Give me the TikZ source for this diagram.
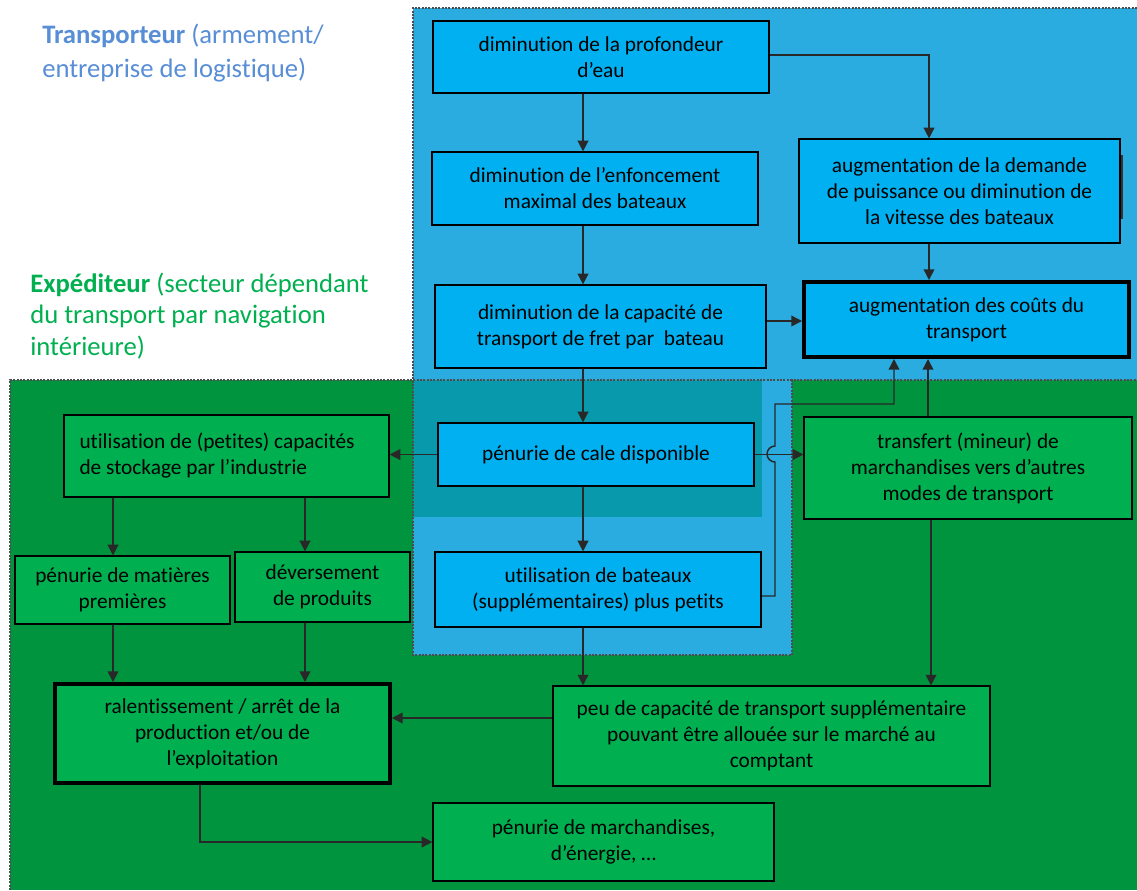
\documentclass[tikz,border=0pt]{standalone}
\usepackage{fontspec}
\setmainfont{Carlito}[Ligatures={NoCommon}]
\usetikzlibrary{arrows.meta}
\definecolor{regblue}{RGB}{42,172,224}
\definecolor{boxblue}{RGB}{0,176,240}
\definecolor{reggreen}{RGB}{0,148,62}
\definecolor{boxgreen}{RGB}{0,176,80}
\definecolor{teal2}{RGB}{8,154,172}
\definecolor{arrgray}{RGB}{40,40,40}
\definecolor{lblblue}{RGB}{88,142,214}
\definecolor{lblgreen}{RGB}{0,176,80}
\tikzset{
  sz/.style 2 args={minimum width=#1*0.75pt, minimum height=#2*0.75pt},
  box/.style={draw=black, line width=0.9pt, align=center, inner sep=2pt,
    font=\fontsize{16}{19.5}\selectfont},
  bbox/.style={box, fill=boxblue},
  gbox/.style={box, fill=boxgreen},
  thick box/.style={line width=3pt},
  arr/.style={draw=arrgray, line width=1.1pt, -{Triangle[length=8pt,width=8pt]}},
  region/.style={draw=gray!60!black, line width=0.9pt, dash pattern=on 1.5pt off 1pt},
  lbl/.style={anchor=base west, align=left, inner sep=0pt}
}
\begin{document}
\begin{tikzpicture}[x=0.75pt,y=-0.75pt]
\useasboundingbox (0,0) rectangle (1137,890);
\fill[white] (0,0) rectangle (1137,890);
% regions
\fill[reggreen] (10,380) rectangle (1137,890);
\fill[regblue] (413,8) -- (1137,8) -- (1137,380) -- (792,380) -- (792,655) -- (413,655) -- cycle;
\fill[teal2] (413,380) rectangle (762,517);
\draw[region] (792,380) -- (10,380) -- (10,890);
\draw[region] (1137,8) -- (413,8) -- (413,655) -- (792,655) -- (792,380) -- (1137,380);
% labels
\node[lbl, text=lblblue, font=\fontsize{20}{25}\selectfont] (tlab) at (42,77) {\textbf{Transporteur} (armement/\\entreprise de logistique)};
\node[lbl, text=lblgreen, font=\fontsize{20}{23.5}\selectfont] (elab) at (30,355) {\textbf{Expéditeur} (secteur dépendant\\du transport par navigation\\intérieure)};
% boxes
\node[bbox, sz={336}{72}] (b1) at (601,57) {diminution de la profondeur\\d’eau};
\node[bbox, sz={326}{73}] (b2) at (595,188.5) {diminution de l’enfoncement\\maximal des bateaux};
\node[bbox, sz={331}{83}] (b3) at (600.5,326.5) {diminution de la capacité de\\transport de fret par\ \ bateau};
\node[bbox, sz={321}{104}] (b4) at (959.5,191) {augmentation de la demande\\de puissance ou diminution de\\la vitesse des bateaux};
\node[bbox, thick box, sz={325}{75}] (b5) at (966.5,319.5) {augmentation des coûts du\\transport};
\node[bbox, sz={316}{63}] (b6) at (596,454.5) {pénurie de cale disponible};
\node[bbox, sz={326}{75}] (b7) at (598,589.5) {utilisation de bateaux\\(supplémentaires) plus petits};
\node[gbox, sz={328}{102}] (b8) at (968,468) {transfert (mineur) de\\marchandises vers d’autres\\modes de transport};
\node[gbox, sz={325}{82}, align=flush left, text width=294*0.75pt, inner xsep=15.5*0.75pt] (b9) at (226.5,456) {utilisation de (petites) capacités\\de stockage par l’industrie};
\node[gbox, sz={215}{68}] (b10) at (122.5,590) {pénurie de matières\\premières};
\node[gbox, sz={175}{70}] (b11) at (322.5,587) {déversement\\de produits};
\node[gbox, thick box, sz={335}{99}] (b12) at (222.5,733.5) {ralentissement / arrêt de la\\production et/ou de\\l’exploitation};
\node[gbox, sz={437}{100}] (b13) at (771.5,736) {peu de capacité de transport supplémentaire\\pouvant être allouée sur le marché au\\comptant};
\node[gbox, sz={341}{78}] (b14) at (603.5,842) {pénurie de marchandises,\\d’énergie, …};
% small shadow edge right of b4
\draw[black!80, line width=1pt] (1122,155) -- (1122,219);
% helper coordinates
\coordinate (cA) at (583,0);
\coordinate (cR) at (929,0);
\coordinate (c928) at (928,0);
\coordinate (c931) at (931,0);
\coordinate (c113) at (113,0);
\coordinate (c305) at (305,0);
\coordinate (c200) at (200,0);
\coordinate (r55) at (0,55);
\coordinate (r321) at (0,321);
\coordinate (r596) at (0,596);
\coordinate (r718) at (0,718);
\coordinate (jlo) at (775,462);
\coordinate (j404) at (775,404);
\coordinate (k404) at (894,404);
% connectors
\draw[arr] (b1.south -| cA) -- (b2.north -| cA);
\draw[arr] (b2.south -| cA) -- (b3.north -| cA);
\draw[arr] (b3.south -| cA) -- (b6.north -| cA);
\draw[arr] (b6.south -| cA) -- (b7.north -| cA);
\draw[arr] (b7.south -| cA) -- (b13.north -| cA);
\draw[arr] (b1.east |- r55) -| (b4.north -| cR);
\draw[arr] (b4.south -| cR) -- (b5.north -| cR);
\draw[arr] (b3.east |- r321) -- (b5.west |- r321);
\draw[arr] (b6.west) -- (b9.east |- b6.west);
\draw[arr] (b6.east) -- (b8.west |- b6.east);
\draw[arr] (b7.east |- r596) -| (jlo) arc[start angle=90,end angle=270,radius=8] -- (j404) -- (k404) -- (b5.south -| k404);
\draw[arr] (b8.north -| c928) -- (b5.south -| c928);
\draw[arr] (b8.south -| c931) -- (b13.north -| c931);
\draw[arr] (b9.south -| c113) -- (b10.north -| c113);
\draw[arr] (b9.south -| c305) -- (b11.north -| c305);
\draw[arr] (b10.south -| c113) -- (b12.north -| c113);
\draw[arr] (b11.south -| c305) -- (b12.north -| c305);
\draw[arr] (b13.west |- r718) -- (b12.east |- r718);
\draw[arr] (b12.south -| c200) |- (b14.west);
\end{tikzpicture}
\end{document}
